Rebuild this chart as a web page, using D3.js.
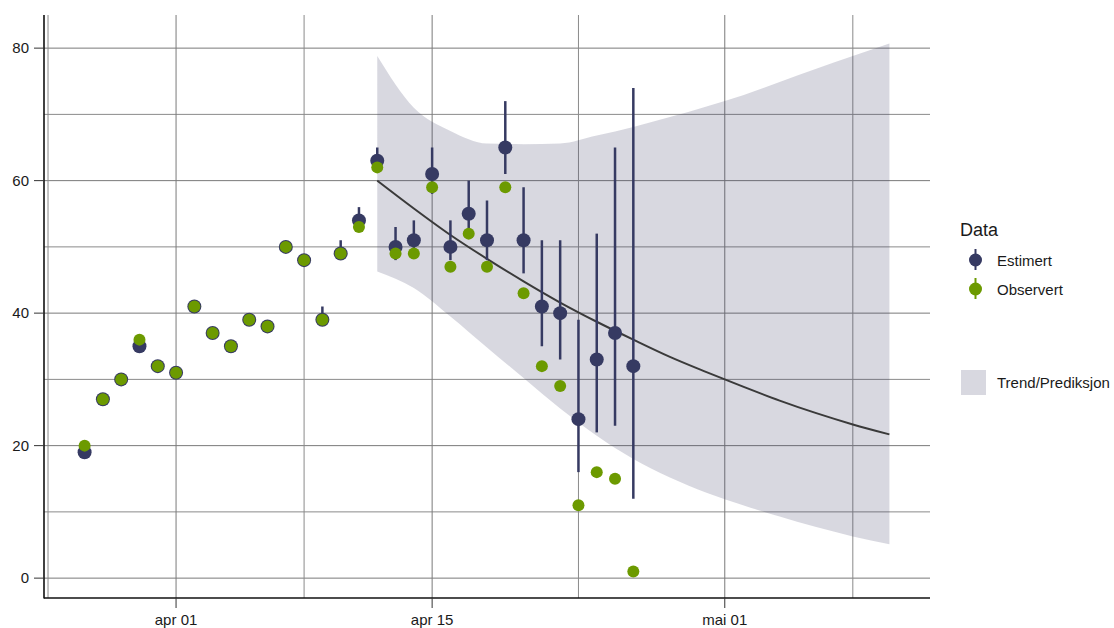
<!DOCTYPE html>
<html>
<head>
<meta charset="utf-8">
<script src="https://cdn.jsdelivr.net/npm/d3@7"></script>
<style>
  body { margin: 0; background: #fff; }
  svg { display: block; font-family: "Liberation Sans", Arial, sans-serif; }
</style>
</head>
<body>
<svg id="chart" width="1114" height="628"></svg>
<script>
// Daily counts from 27 March
const startDay = [2020, 2, 27];
const estimated = [19, 27, 30, 35, 32, 31, 41, 37, 35, 39, 38, 50, 48, 39, 49, 54,
                   63, 50, 51, 61, 50, 55, 51, 65, 51, 41, 40, 24, 33, 37, 32];
const estLow    = [19, 27, 30, 35, 32, 31, 41, 37, 35, 39, 38, 50, 48, 39, 49, 53,
                   62, 48, 49, 58, 48, 52.5, 48, 61, 46, 35, 33, 16, 22, 23, 12];
const estHigh   = [19, 27, 30, 35, 32, 31, 41, 37, 35, 39, 38, 50, 48, 41, 51, 56,
                   65, 53, 54, 65, 54, 60, 57, 72, 59, 51, 51, 39, 52, 65, 74];
const observed  = [20, 27, 30, 36, 32, 31, 41, 37, 35, 39, 38, 50, 48, 39, 49, 53,
                   62, 49, 49, 59, 47, 52, 47, 59, 43, 32, 29, 11, 16, 15, 1];

// Trend with prediction band, 12 April to 10 May (every second day)
const trendStart = [2020, 3, 12];
const trendMid   = [60, 55.8, 51.8, 48.2, 44.8, 41.6, 38.7, 36.0, 33.4, 31.1, 28.9, 26.8, 24.9, 23.2, 21.7];
const bandUpper  = [78.8, 71, 67.5, 65.6, 65.5, 65.6, 66.8, 68.1, 69.6, 71.2, 72.9, 74.9, 76.9, 78.8, 80.7];
const bandLower  = [46.3, 43.8, 39.5, 34.8, 30.2, 25.6, 21.5, 18.0, 15.2, 12.9, 11.0, 9.3, 7.7, 6.3, 5.1];

const xTickDates  = [[2020, 3, 1], [2020, 3, 15], [2020, 4, 1]];
const xTickLabels = ["apr 01", "apr 15", "mai 01"];
const xMinorDates = [[2020, 2, 25], [2020, 3, 8], [2020, 3, 23], [2020, 4, 8]];
const yTicks      = [0, 20, 40, 60, 80];
const yMinor      = [10, 30, 50, 70];

const seriesNames = ["Estimert", "Observert"];
const bandName = "Trend/Prediksjon";
const legendTitle = "Data";

const colEst = "#363a62", colObs = "#6c9a00", colBand = "#3b3d63";

const DAY = 864e5;
const utc = a => new Date(Date.UTC(a[0], a[1], a[2]));
const dayOf = (a, i, step) => new Date(utc(a).getTime() + i * (step || 1) * DAY);

const firstDay = utc(startDay), lastDay = dayOf(trendStart, trendMid.length - 1, 2);
const pad = 2.22 * DAY;

const svg = d3.select("#chart");
const L = 44, R = 930, T = 15, B = 598;

const x = d3.scaleUtc()
  .domain([new Date(firstDay.getTime() - pad), new Date(lastDay.getTime() + pad)])
  .range([L, R]);
const y = d3.scaleLinear().domain([-3, 85]).range([B, T]);

// grid
const grid = svg.append("g");
grid.selectAll(".hmin").data(yMinor).join("line")
  .attr("x1", L).attr("x2", R).attr("y1", d => y(d)).attr("y2", d => y(d))
  .attr("stroke", "#8a8a8a").attr("stroke-width", 1);
grid.selectAll(".hmaj").data(yTicks).join("line")
  .attr("x1", L).attr("x2", R).attr("y1", d => y(d)).attr("y2", d => y(d))
  .attr("stroke", "#7a7a7a").attr("stroke-width", 1);
grid.selectAll(".vmin").data(xMinorDates).join("line")
  .attr("x1", d => x(utc(d))).attr("x2", d => x(utc(d))).attr("y1", T).attr("y2", B)
  .attr("stroke", "#8a8a8a").attr("stroke-width", 1);
grid.selectAll(".vmaj").data(xTickDates).join("line")
  .attr("x1", d => x(utc(d))).attr("x2", d => x(utc(d))).attr("y1", T).attr("y2", B)
  .attr("stroke", "#7a7a7a").attr("stroke-width", 1);

// prediction band
const bandData = trendMid.map((m, i) => ({ d: dayOf(trendStart, i, 2), m, lo: bandLower[i], hi: bandUpper[i] }));
svg.append("path").datum(bandData)
  .attr("d", d3.area().x(d => x(d.d)).y0(d => y(d.lo)).y1(d => y(d.hi)).curve(d3.curveMonotoneX))
  .attr("fill", colBand).attr("fill-opacity", 0.2);

// trend line
svg.append("path").datum(bandData)
  .attr("d", d3.line().x(d => x(d.d)).y(d => y(d.m)).curve(d3.curveMonotoneX))
  .attr("fill", "none").attr("stroke", "#3a3a3a").attr("stroke-width", 2);

// estimated points with intervals
const pts = estimated.map((v, i) => ({ d: dayOf(startDay, i), v, lo: estLow[i], hi: estHigh[i], o: observed[i] }));
svg.append("g").selectAll("line").data(pts.filter(p => p.hi > p.lo)).join("line")
  .attr("x1", p => x(p.d)).attr("x2", p => x(p.d))
  .attr("y1", p => y(p.lo)).attr("y2", p => y(p.hi))
  .attr("stroke", colEst).attr("stroke-width", 2.5);
svg.append("g").selectAll("circle").data(pts).join("circle")
  .attr("cx", p => x(p.d)).attr("cy", p => y(p.v)).attr("r", 7)
  .attr("fill", colEst);
svg.append("g").selectAll("circle").data(pts).join("circle")
  .attr("cx", p => x(p.d)).attr("cy", p => y(p.o)).attr("r", 6)
  .attr("fill", colObs);

// axes
const ax = svg.append("g").attr("font-size", 15).attr("fill", "#1a1a1a");
ax.append("line").attr("x1", L).attr("x2", L).attr("y1", T).attr("y2", B + 0.5)
  .attr("stroke", "#111").attr("stroke-width", 1.6);
ax.append("line").attr("x1", L).attr("x2", R).attr("y1", B).attr("y2", B)
  .attr("stroke", "#111").attr("stroke-width", 1.6);
yTicks.forEach(t => {
  ax.append("line").attr("x1", L - 10).attr("x2", L).attr("y1", y(t)).attr("y2", y(t))
    .attr("stroke", "#333").attr("stroke-width", 1);
  ax.append("text").attr("x", L - 15).attr("y", y(t)).attr("dy", "0.35em")
    .attr("text-anchor", "end").text(t);
});
xTickDates.forEach((t, i) => {
  const px = x(utc(t));
  ax.append("line").attr("x1", px).attr("x2", px).attr("y1", B).attr("y2", B + 10)
    .attr("stroke", "#333").attr("stroke-width", 1);
  ax.append("text").attr("x", px).attr("y", 625)
    .attr("text-anchor", "middle").text(xTickLabels[i]);
});

// legend
const lg = svg.append("g").attr("fill", "#1a1a1a");
lg.append("text").attr("x", 960).attr("y", 236).attr("font-size", 18).text(legendTitle);
[colEst, colObs].forEach((c, i) => {
  const cy = 260 + i * 29;
  lg.append("line").attr("x1", 975.5).attr("x2", 975.5).attr("y1", cy - 11).attr("y2", cy + 10)
    .attr("stroke", c).attr("stroke-width", 2);
  lg.append("circle").attr("cx", 975.5).attr("cy", cy).attr("r", 6.5).attr("fill", c);
  lg.append("text").attr("x", 997).attr("y", cy + 5.5).attr("font-size", 15).text(seriesNames[i]);
});
lg.append("rect").attr("x", 961).attr("y", 370).attr("width", 25).attr("height", 25)
  .attr("fill", colBand).attr("fill-opacity", 0.2);
lg.append("text").attr("x", 997).attr("y", 388).attr("font-size", 15).text(bandName);
</script>
</body>
</html>
